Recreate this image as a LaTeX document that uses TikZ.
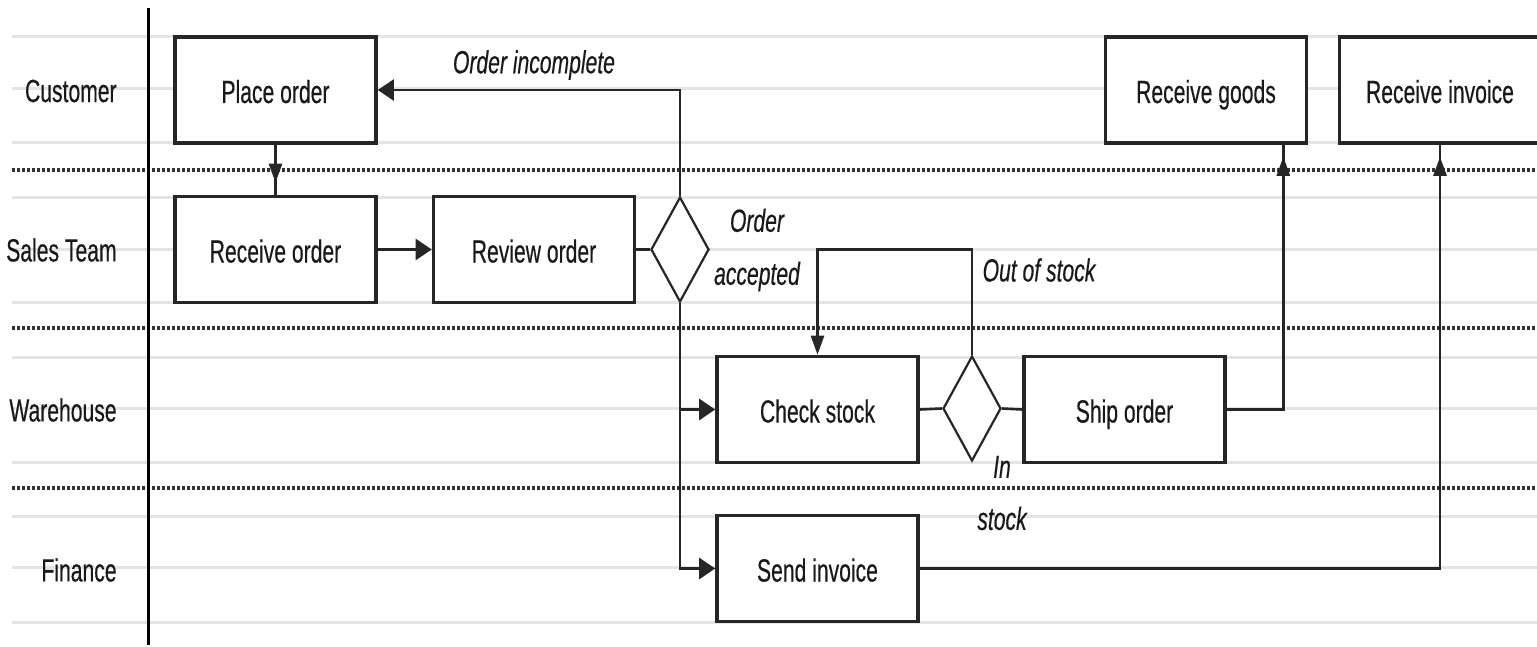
\documentclass[tikz,border=0pt]{standalone}
\usepackage{fontspec}
\setmainfont{Liberation Sans}[FakeStretch=0.66,FakeBold=0.35]
\usetikzlibrary{arrows.meta,shapes.geometric,decorations.markings}

\newcommand{\chartfont}{\fontsize{16pt}{19pt}\selectfont}
\definecolor{inkgray}{HTML}{262626}
\definecolor{rulegray}{HTML}{E4E4E4}

\begin{document}
\begin{tikzpicture}[x=0.5pt,y=-0.5pt,
  ruleline/.style={draw=rulegray, line width=1.5pt},
  lanesep/.style={draw=black!80, line width=1.7pt, dash pattern=on 1.6pt off 0.9pt},
  stepbox/.style={rectangle, draw=inkgray, line width=1.8pt, fill=white,
    minimum width=100.5pt, minimum height=53pt, inner sep=0pt,
    text height=14pt, text depth=1pt,
    font=\chartfont, text=black!90},
  gate/.style={diamond, draw=inkgray, line width=1.1pt, fill=white,
    minimum width=29pt, minimum height=52.5pt, inner sep=0pt, shape aspect=0.55},
  flow/.style={draw=inkgray, line width=1.3pt},
  harrow/.style={flow, -{Triangle[length=8pt,width=10.5pt]}},
  varrow/.style={flow, -{Triangle[length=9.5pt,width=6.5pt]}},
  midtip/.style={postaction={decorate, decoration={markings,
    mark=at position -6pt with {\arrow{Triangle[length=9.5pt,width=6.5pt]}}}}},
  lanename/.style={anchor=east, inner sep=0pt, font=\chartfont, text=black!90},
  cond/.style={inner sep=0pt, align=center, font=\chartfont\itshape, text=black!90}
]
\useasboundingbox (0,0) rectangle (1537,647);

% light guide rules across each lane
\foreach \yy in {37,89,143,197,249,302,357,408,462,516,567,622}
  \draw[ruleline] (12,\yy) -- (1537,\yy);

% lane separators
\foreach \yy in {170,328,488}
  \draw[lanesep] (12,\yy) -- (1537,\yy);

% column rule between lane names and the flow
\draw[black, line width=1.5pt] (148,8) -- (148,645);

% lane names
\node[lanename] (lcust) at (117,91) {Customer};
\node[lanename] (lsales) at (117,250) {Sales Team};
\node[lanename] (lware) at (117,410) {Warehouse};
\node[lanename] (lfin) at (117,570) {Finance};

% process steps
\node[stepbox] (place) at (275.5,90) {Place order};
\node[stepbox] (recv) at (275.5,249.5) {Receive order};
\node[stepbox] (review) at (534,249.5) {Review order};
\node[gate] (d1) at (680,249.5) {};
\node[stepbox] (check) at (817.5,409.5) {Check stock};
\node[gate] (d2) at (972,408.5) {};
\node[stepbox] (ship) at (1124.5,409.5) {Ship order};
\node[stepbox] (send) at (817.5,568.5) {Send invoice};
\node[stepbox] (goods) at (1206,90) {Receive goods};
\node[stepbox] (rinv) at (1440,90) {Receive invoice};

% condition labels
\node[cond] (lincomplete) at (534,65) {Order incomplete};
\node[cond] (laccepted) at (757,250) {Order\\[7.5pt]accepted};
\node[cond] (lout) at (1039,270) {Out of stock};
\node[cond] (lin) at (1002,493) {In\\[7pt]stock};

% connectors
\coordinate (gin) at ([xshift=-12.5pt]goods.south east);
\draw[flow, midtip] (place.south) -- (recv.north);
\draw[harrow] (recv.east) -- (review.west);
\draw[flow] (review.east) -- (d1.west);
\draw[harrow] (d1.north) |- (place.east);
\draw[harrow] (d1.south) |- (check.west);
\draw[harrow] (d1.south) |- (send.west);
\draw[flow] (check.east) -- (d2.west);
\draw[varrow] (d2.north) |- (check.north |- recv.east) -- (check.north);
\draw[flow] (d2.east) -- (ship.west);
\draw[flow, midtip] (ship.east) -| (gin);
\draw[flow, midtip] (send.east) -| (rinv.south);
\end{tikzpicture}
\end{document}
